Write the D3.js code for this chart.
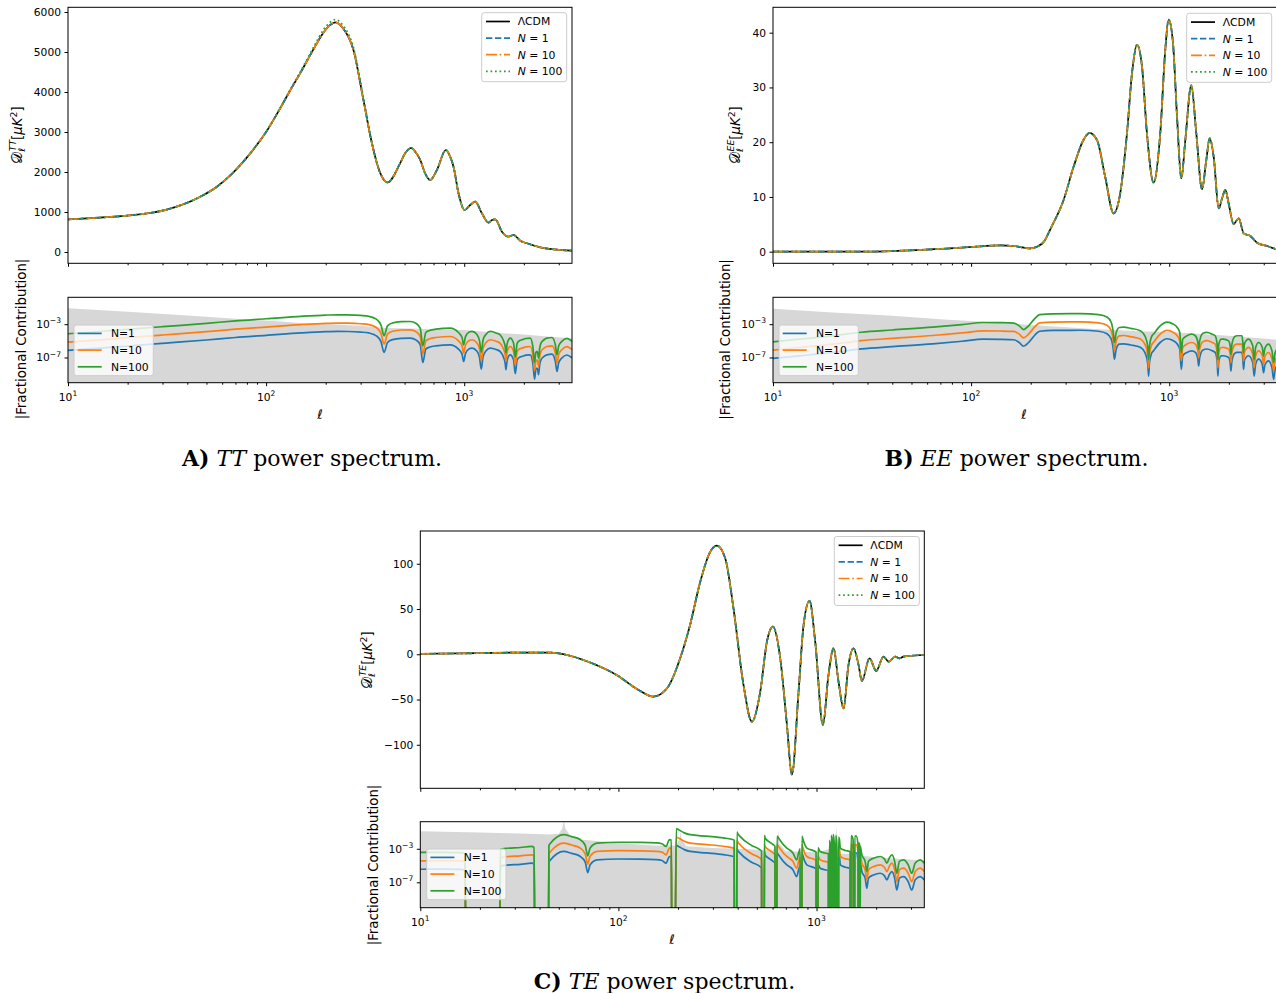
<!DOCTYPE html>
<html>
<head>
<meta charset="utf-8">
<script src="https://cdn.jsdelivr.net/npm/d3@7"></script>
<style>
  html, body { margin: 0; padding: 0; background: #fff; }
  svg { display: block; }
  text { font-family: "DejaVu Sans", sans-serif; fill: #000; white-space: pre; }
  text.caption { font-family: "DejaVu Serif", serif; }
</style>
</head>
<body>
<svg id="fig" width="1276" height="993" viewBox="0 0 1276 993"></svg>
<script>
// ---------------------------------------------------------------
// Multipole range shared by every panel
const ellRange = [10, 3500];
const ellMajor = [10, 100, 1000];
const ellMinor = [20, 30, 40, 50, 60, 70, 80, 90, 200, 300, 400, 500, 600, 700, 800, 900, 2000, 3000];

// TT band powers D_l [muK^2]
const ttEll  = [10,14.5,21,31.5,46,56,68,83,100,118,133,149,173,195,210,223,245,276,310,342,377,410,475,503,540,566,600,635,673,728,808,849,883,936,1003,1072,1137,1228,1327,1380,1435,1550,1675,1775,1918,2074,2422,2826,3500];
const ttLcdm = [817,860,920,1060,1370,1620,1980,2460,3000,3600,4060,4480,5060,5490,5670,5740,5590,5050,3800,2720,1970,1740,2220,2467,2600,2508,2300,1967,1800,2050,2550,2383,2133,1467,1050,1175,1258,967,733,800,817,508,383,425,283,217,117,67,33];
const ttN100 = [817,860,920,1060,1370,1620,1980,2460,3005,3610,4080,4510,5110,5560,5740,5810,5660,5110,3850,2730,1970,1740,2220,2467,2600,2508,2300,1967,1800,2050,2550,2383,2133,1467,1050,1175,1258,967,733,800,817,508,383,425,283,217,117,67,33];

// EE band powers D_l [muK^2]
const eeEll  = [10,30,53,78,103,140,164,199,215,235,250,293,329,369,396,432,475,524,566,612,649,688,729,772,834,901,955,993,1045,1095,1151,1206,1292,1370,1464,1538,1600,1676,1778,1849,1920,1995,2115,2243,2376,2569,2775,3117,3500];
const eeLcdm = [0.03,0.03,0.3,0.6,0.9,1.15,1.04,0.62,0.9,2.0,3.96,9.44,15.5,20.4,21.7,20.4,13.7,7.0,10.7,21.6,32.6,37.8,33.8,21.6,12.6,21.6,36.8,42.4,38.1,24.7,13.4,20.4,30.4,21.6,11.4,16.7,20.7,17.4,7.9,9.75,11.3,8.8,5.06,6.1,3.36,2.87,1.64,1.04,0.4];

// TE band powers D_l [muK^2]
const teEll  = [10,20,30.7,45,55,66.5,81,98,119,129,150,176,205,230,259,291,314,346,381,428,472,520,562,602,656,709,751,812,860,922,985,1077,1149,1218,1291,1369,1450,1537,1630,1694,1852,2001,2178,2310,2497,2620,2750,3500];
const teLcdm = [0.5,1.2,1.8,1.8,-0.8,-6.3,-13.7,-22.9,-35.8,-40.6,-46.8,-37.6,-4.4,32.4,80.2,113.4,120,106,50.8,-33.9,-74.5,-41.3,13.9,30.5,-4.4,-78,-133,-41,32,58.9,13.9,-78,-22.9,6.6,-30,-59.7,-11.8,6.6,-11.8,-29.5,-4.4,-18.5,-2.6,-8.2,-2.6,-4.5,-2.6,-0.8];

// |fractional contribution|, stored as log10; null = exactly zero (falls off the log axis)
const ttFracEll  = [10,15,20,30,50,70,100,150,200,230,260,300,330,360,380,394,410,435,480,533,575,600,618,640,670,720,850,935,975,993,1015,1060,1095,1160,1195,1219,1245,1290,1353,1450,1520,1580,1610,1625,1645,1680,1708,1775,1811,1850,1910,1956,2050,2154,2223,2265,2300,2328,2350,2372,2400,2438,2520,2616,2775,2885,2940,3000,3100,3300,3500];
const ttFracN1   = [-6.15,-5.85,-5.62,-5.3,-4.9,-4.6,-4.35,-4.05,-3.9,-3.87,-3.88,-3.95,-4.05,-4.4,-5.1,-6.4,-5.2,-4.85,-4.7,-4.68,-4.95,-5.5,-7.6,-6.0,-5.75,-5.6,-5.48,-6.0,-6.6,-7.48,-6.5,-5.95,-5.87,-6.25,-7.0,-8.39,-6.9,-6.2,-5.87,-6.05,-6.3,-7.0,-7.7,-8.47,-7.4,-6.8,-6.68,-7.3,-8.95,-7.3,-6.95,-6.88,-6.72,-6.68,-7.8,-9.59,-8.4,-8.27,-8.5,-9.07,-8.0,-7.3,-6.9,-6.68,-6.6,-7.5,-8.68,-7.6,-7.1,-6.7,-7.05];
const ttFracN10  = [-5.15,-4.85,-4.62,-4.3,-3.9,-3.6,-3.35,-3.05,-2.9,-2.87,-2.88,-2.95,-3.05,-3.4,-4.1,-5.4,-4.2,-3.85,-3.7,-3.68,-3.95,-4.5,-6.6,-5.0,-4.75,-4.6,-4.48,-5.0,-5.6,-6.48,-5.5,-4.95,-4.87,-5.25,-6.0,-7.39,-5.9,-5.2,-4.87,-5.05,-5.3,-6.0,-6.7,-7.47,-6.4,-5.8,-5.68,-6.3,-7.95,-6.3,-5.95,-5.88,-5.72,-5.68,-6.8,-8.59,-7.4,-7.27,-7.5,-8.07,-7.0,-6.3,-5.9,-5.68,-5.6,-6.5,-7.68,-6.6,-6.1,-5.7,-6.05];
const ttFracN100 = [-4.15,-3.85,-3.62,-3.3,-2.9,-2.6,-2.35,-2.05,-1.9,-1.87,-1.88,-1.95,-2.05,-2.4,-3.1,-4.4,-3.2,-2.85,-2.7,-2.68,-2.95,-3.5,-5.6,-4.0,-3.75,-3.6,-3.48,-4.0,-4.6,-5.48,-4.5,-3.95,-3.87,-4.25,-5.0,-6.39,-4.9,-4.2,-3.87,-4.05,-4.3,-5.0,-5.7,-6.47,-5.4,-4.8,-4.68,-5.3,-6.95,-5.3,-4.95,-4.88,-4.72,-4.68,-5.8,-7.59,-6.4,-6.27,-6.5,-7.07,-6.0,-5.3,-4.9,-4.68,-4.6,-5.5,-6.68,-5.6,-5.1,-4.7,-5.05];
const ttBandEll  = [10,20,40,70,100,150,220,300,400,600,1000,1500,2000,2700,3500];
const ttBand     = [-1.08,-1.5,-1.95,-2.35,-2.55,-2.85,-3.05,-3.2,-3.45,-3.55,-3.7,-4.05,-4.25,-4.5,-4.68];

const eeFracEll  = [10,15,20,28,40,64,90,115,140,164,175,184,195,210,222,260,356,440,485,510,522,529,540,560,588,640,714,760,780,787,795,815,834,900,974,1050,1095,1130,1151,1170,1229,1300,1355,1395,1408,1425,1480,1550,1650,1706,1745,1761,1780,1830,1880,1995,2030,2049,2070,2140,2199,2330,2355,2373,2400,2514,2640,2685,2730,2825,2950,2993,3040,3170,3300,3365,3420,3500];
const eeFracN1   = [-7.12,-6.7,-6.4,-5.97,-5.7,-5.36,-5.05,-4.8,-4.82,-4.87,-5.2,-5.65,-5.2,-4.3,-3.85,-3.75,-3.73,-3.85,-4.14,-4.8,-6.0,-7.2,-6.0,-5.4,-5.36,-5.5,-5.78,-6.6,-7.8,-9.24,-7.6,-6.5,-6.18,-5.2,-4.75,-5.0,-5.36,-6.0,-8.42,-6.8,-6.39,-6.2,-6.39,-7.2,-8.02,-7.0,-6.1,-5.98,-6.2,-6.39,-7.4,-9.24,-7.4,-6.8,-6.79,-7.0,-7.6,-8.63,-7.5,-6.5,-6.39,-6.39,-7.3,-8.42,-7.3,-6.79,-7.6,-9.24,-7.8,-7.2,-7.8,-8.83,-7.9,-7.4,-8.2,-9.6,-8.5,-8.0];
const eeFracN10  = [-6.12,-5.7,-5.4,-4.97,-4.7,-4.36,-4.05,-3.8,-3.82,-3.87,-4.2,-4.65,-4.2,-3.3,-2.85,-2.75,-2.73,-2.85,-3.14,-3.8,-5.0,-6.2,-5.0,-4.4,-4.36,-4.5,-4.78,-5.6,-6.8,-8.24,-6.6,-5.5,-5.18,-4.2,-3.75,-4.0,-4.36,-5.0,-7.42,-5.8,-5.39,-5.2,-5.39,-6.2,-7.02,-6.0,-5.1,-4.98,-5.2,-5.39,-6.4,-8.24,-6.4,-5.8,-5.79,-6.0,-6.6,-7.63,-6.5,-5.5,-5.39,-5.39,-6.3,-7.42,-6.3,-5.79,-6.6,-8.24,-6.8,-6.2,-6.8,-7.83,-6.9,-6.4,-7.2,-8.6,-7.5,-7.0];
const eeFracN100 = [-5.12,-4.7,-4.4,-3.97,-3.7,-3.36,-3.05,-2.8,-2.82,-2.87,-3.2,-3.65,-3.2,-2.3,-1.85,-1.75,-1.73,-1.85,-2.14,-2.8,-4.0,-5.2,-4.0,-3.4,-3.36,-3.5,-3.78,-4.6,-5.8,-7.24,-5.6,-4.5,-4.18,-3.2,-2.75,-3.0,-3.36,-4.0,-6.42,-4.8,-4.39,-4.2,-4.39,-5.2,-6.02,-5.0,-4.1,-3.98,-4.2,-4.39,-5.4,-7.24,-5.4,-4.8,-4.79,-5.0,-5.6,-6.63,-5.5,-4.5,-4.39,-4.39,-5.3,-6.42,-5.3,-4.79,-5.6,-7.24,-5.8,-5.2,-5.8,-6.83,-5.9,-5.4,-6.2,-7.6,-6.5,-6.0];
const eeBandEll  = [10,20,40,70,115,200,400,700,1000,2000,3500];
const eeBand     = [-1.16,-1.6,-2.0,-2.4,-2.72,-3.1,-3.55,-3.85,-3.94,-4.4,-4.87];

const teFracEll  = [10,13,16,16.8,17.0,25.1,25.4,27,32,36.5,37.5,37.9,44.3,44.6,45.5,49,52.8,58,64,68,70,72,78,100,129,155,166,174,181,185,186,193,196,201,215,230,279,339,381,384,385,395,397,399,411,470,519,528,529,544,546,550,580,606,617,618,630,632,643,680,708,760,795,810,827,828,843,845,850,894,985,995,996,1016,1018,1043,1100,1148,1150,1160,1162,1172,1174,1185,1187,1198,1200,1214,1216,1230,1232,1248,1250,1265,1267,1290,1293,1306,1318,1400,1469,1478,1480,1490,1495,1510,1530,1538,1555,1560,1587,1620,1624,1632,1636,1652,1655,1660,1663,1694,1760,1795,1830,1940,2097,2200,2265,2330,2400,2480,2543,2620,2750,2900,3027,3150,3334,3500];
const teFracN1   = [-5.44,-5.43,-5.45,-5.6,null,null,-5.1,-4.95,-4.85,-4.72,-4.85,null,null,-4.6,-4.32,-3.6,-3.32,-3.55,-3.9,-4.6,-5.84,-4.9,-4.32,-4.22,-4.24,-4.3,-4.4,-4.72,-3.92,-3.95,null,null,-2.6,-2.72,-3.1,-3.32,-3.5,-3.7,-3.92,-4.0,null,null,-3.0,-3.12,-3.52,-4.6,-5.12,-5.3,null,null,-3.4,-3.72,-4.2,-4.52,-4.7,null,null,-3.5,-3.72,-4.5,-4.92,-5.5,-6.32,-5.6,-5.0,null,null,-3.5,-3.72,-4.92,-5.32,-5.4,null,null,-4.9,-5.32,-5.5,-5.6,null,null,-4.0,-4.8,null,null,-3.4,-4.5,null,null,-3.3,-4.6,null,null,-3.4,-4.3,null,null,-3.6,-3.9,-4.92,-5.2,-5.32,-5.5,null,null,-3.44,-3.5,-3.9,null,null,-3.5,-3.5,-4.5,null,null,-4.3,-4.6,null,null,-4.7,-5.72,-6.5,-7.72,-6.5,-6.12,-5.92,-6.2,-6.72,-6.1,-5.72,-6.5,-7.92,-6.5,-6.32,-6.9,-7.92,-6.7,-6.32,-6.72];
const teFracN10  = [-4.44,-4.43,-4.45,-4.6,null,null,-4.1,-3.95,-3.85,-3.72,-3.85,null,null,-3.6,-3.32,-2.6,-2.32,-2.55,-2.9,-3.6,-4.84,-3.9,-3.32,-3.22,-3.24,-3.3,-3.4,-3.72,-2.92,-2.95,null,null,-1.6,-1.72,-2.1,-2.32,-2.5,-2.7,-2.92,-3.0,null,null,-2.0,-2.12,-2.52,-3.6,-4.12,-4.3,null,null,-2.4,-2.72,-3.2,-3.52,-3.7,null,null,-2.5,-2.72,-3.5,-3.92,-4.5,-5.32,-4.6,-4.0,null,null,-2.5,-2.72,-3.92,-4.32,-4.4,null,null,-3.9,-4.32,-4.5,-4.6,null,null,-3.0,-3.8,null,null,-2.4,-3.5,null,null,-2.3,-3.6,null,null,-2.4,-3.3,null,null,-2.6,-2.9,-3.92,-4.2,-4.32,-4.5,null,null,-2.44,-2.5,-2.9,null,null,-2.5,-2.5,-3.5,null,null,-3.3,-3.6,null,null,-3.7,-4.72,-5.5,-6.72,-5.5,-5.12,-4.92,-5.2,-5.72,-5.1,-4.72,-5.5,-6.92,-5.5,-5.32,-5.9,-6.92,-5.7,-5.32,-5.72];
const teFracN100 = [-3.44,-3.43,-3.45,-3.6,null,null,-3.1,-2.95,-2.85,-2.72,-2.85,null,null,-2.6,-2.32,-1.6,-1.32,-1.55,-1.9,-2.6,-3.84,-2.9,-2.32,-2.22,-2.24,-2.3,-2.4,-2.72,-1.92,-1.95,null,null,-0.6,-0.72,-1.1,-1.32,-1.5,-1.7,-1.92,-2.0,null,null,-1.0,-1.12,-1.52,-2.6,-3.12,-3.3,null,null,-1.4,-1.72,-2.2,-2.52,-2.7,null,null,-1.5,-1.72,-2.5,-2.92,-3.5,-4.32,-3.6,-3.0,null,null,-1.5,-1.72,-2.92,-3.32,-3.4,null,null,-2.9,-3.32,-3.5,-3.6,null,null,-2.0,-2.8,null,null,-1.4,-2.5,null,null,-1.3,-2.6,null,null,-1.4,-2.3,null,null,-1.6,-1.9,-2.92,-3.2,-3.32,-3.5,null,null,-1.44,-1.5,-1.9,null,null,-1.5,-1.5,-2.5,null,null,-2.3,-2.6,null,null,-2.7,-3.72,-4.5,-5.72,-4.5,-4.12,-3.92,-4.2,-4.72,-4.1,-3.72,-4.5,-5.92,-4.5,-4.32,-4.9,-5.92,-4.7,-4.32,-4.72];
const teBandEll  = [10,20,35,45,50,52,53,54,57,64,100,150,195,203,206,209,220,300,400,600,636,643,650,700,1000,1180,1191,1200,1250,1263,1275,1300,1500,1510,1520,2000,3500];
const teBand     = [-0.92,-1.05,-1.2,-1.3,-1.2,-0.6,0.4,-0.6,-1.4,-1.9,-2.3,-2.6,-2.6,-1.9,-1.1,-1.9,-2.7,-2.9,-3.0,-3.2,-2.4,-0.72,-2.4,-3.3,-3.4,-3.0,-0.9,-3.0,-2.5,-0.24,-2.5,-3.6,-3.6,-1.5,-3.7,-4.0,-4.4];

// Axis ticks
const ttTicks = [0, 1000, 2000, 3000, 4000, 5000, 6000];
const eeTicks = [0, 10, 20, 30, 40];
const teTicks = [-100, -50, 0, 50, 100];
const fracTickExp = [-7, -3];
const fracRange = [Math.pow(10, -10.03), Math.pow(10, 0.23)];

// ---------------------------------------------------------------
const svg = d3.select('#fig');
const defs = svg.append('defs');
const TICK_FS = 10.7;
const LABEL_FS = 13.3;
const LW = 1.7;
const C = { lcdm: '#000000', n1: '#1f77b4', n10: '#ff7f0e', n100: '#2ca02c' };
const DASH = { n1: '6.3,2.7', n10: '10.9,2.7,1.7,2.7', n100: '1.7,2.8' };

function clip(id, x0, y0, x1, y1) {
  defs.append('clipPath').attr('id', id).append('rect')
    .attr('x', x0).attr('y', y0).attr('width', x1 - x0).attr('height', y1 - y0);
  return `url(#${id})`;
}

function styleAxis(sel) {
  sel.select('.domain').remove();
  sel.attr('font-family', null).attr('font-size', null);
  sel.selectAll('.tick line').attr('stroke', '#000').attr('stroke-width', 1);
  sel.selectAll('.tick text').attr('font-size', TICK_FS).attr('fill', '#000');
}

function frame(g, x0, y0, x1, y1) {
  g.append('rect').attr('x', x0).attr('y', y0).attr('width', x1 - x0).attr('height', y1 - y0)
    .attr('fill', 'none').attr('stroke', '#000').attr('stroke-width', 1);
}

function ellTicks(g, x, yPos, labelled) {
  styleAxis(g.append('g').attr('transform', `translate(0,${yPos})`)
    .call(d3.axisBottom(x).tickValues(ellMajor).tickSize(3.5).tickFormat('')));
  styleAxis(g.append('g').attr('transform', `translate(0,${yPos})`)
    .call(d3.axisBottom(x).tickValues(ellMinor).tickSize(2).tickFormat('')));
  if (labelled) {
    ellMajor.forEach(v => {
      const t = g.append('text').attr('x', x(v)).attr('y', yPos + 18.3)
        .attr('text-anchor', 'middle').attr('font-size', TICK_FS);
      t.append('tspan').text('10');
      t.append('tspan').attr('dy', -4.8).attr('font-size', 7.6).text(String(Math.round(Math.log10(v))));
    });
  }
}

function dLabel(g, bx, cy, pair) {
  const t = g.append('text').attr('transform', `translate(${bx},${cy}) rotate(-90)`)
    .attr('text-anchor', 'middle').attr('font-size', LABEL_FS);
  t.append('tspan').attr('font-size', 14.5).text('\u{1D49F}');
  t.append('tspan').attr('font-size', 9.3).attr('font-style', 'italic').attr('dy', 3).text('\u2113');
  t.append('tspan').attr('font-size', 9.3).attr('font-style', 'italic').attr('dx', -3.5).attr('dy', -9).text(pair);
  t.append('tspan').attr('dy', 6).text('[');
  t.append('tspan').attr('font-style', 'italic').text('\u03BCK');
  t.append('tspan').attr('font-size', 9.3).attr('dy', -5).text('2');
  t.append('tspan').attr('dy', 5).text(']');
}

function fracLabel(g, bx, cy) {
  g.append('text').attr('transform', `translate(${bx},${cy}) rotate(-90)`)
    .attr('text-anchor', 'middle').attr('font-size', LABEL_FS).text('|Fractional Contribution|');
}

function ellLabel(g, cx, by) {
  g.append('text').attr('x', cx).attr('y', by).attr('text-anchor', 'middle')
    .attr('font-size', LABEL_FS).attr('font-style', 'italic').text('\u2113');
}

function topLegend(g, bx, by) {
  const entries = [
    { name: 'lcdm', label: ['\u039BCDM'] },
    { name: 'n1', label: ['N', ' = 1'] },
    { name: 'n10', label: ['N', ' = 10'] },
    { name: 'n100', label: ['N', ' = 100'] }
  ];
  g.append('rect').attr('x', bx).attr('y', by).attr('width', 85).attr('height', 69).attr('rx', 2.5)
    .attr('fill', '#fff').attr('fill-opacity', 0.8).attr('stroke', '#cccccc').attr('stroke-width', 1);
  entries.forEach((e, i) => {
    const yy = by + 8.8 + i * 16.6;
    g.append('line').attr('x1', bx + 4.3).attr('x2', bx + 28.3).attr('y1', yy).attr('y2', yy)
      .attr('stroke', C[e.name]).attr('stroke-width', LW).attr('stroke-dasharray', DASH[e.name] || null);
    const t = g.append('text').attr('x', bx + 36).attr('y', yy + 3.8).attr('font-size', 10.8);
    if (e.label.length === 1) t.text(e.label[0]);
    else {
      t.append('tspan').attr('font-style', 'italic').text(e.label[0]);
      t.append('tspan').text(e.label[1]);
    }
  });
}

function bottomLegend(g, bx, by) {
  const entries = [['n1', 'N=1'], ['n10', 'N=10'], ['n100', 'N=100']];
  g.append('rect').attr('x', bx).attr('y', by).attr('width', 79.3).attr('height', 50.7).attr('rx', 2.5)
    .attr('fill', '#fff').attr('fill-opacity', 0.8).attr('stroke', '#cccccc').attr('stroke-width', 1);
  entries.forEach(([k, lab], i) => {
    const yy = by + 8.4 + i * 16.7;
    g.append('line').attr('x1', bx + 3.7).attr('x2', bx + 27.7).attr('y1', yy).attr('y2', yy)
      .attr('stroke', C[k]).attr('stroke-width', LW);
    g.append('text').attr('x', bx + 37).attr('y', yy + 3.9).attr('font-size', 10.8).text(lab);
  });
}

function spectrumPanel(L, spec) {
  const g = svg.append('g');
  const x = d3.scaleLog().domain(ellRange).range([L.x0, L.x1]);
  const y = d3.scaleLinear().domain(spec.yDomain).range([L.ty1, L.ty0]);
  const line = d3.line().x(d => x(d[0])).y(d => y(d[1])).curve(d3.curveMonotoneX);
  const plot = g.append('g').attr('clip-path', clip(spec.id + '-top', L.x0, L.ty0, L.x1, L.ty1));
  spec.series.forEach(s => {
    plot.append('path').datum(d3.zip(s.ell, s.values)).attr('d', line)
      .attr('fill', 'none').attr('stroke', C[s.name]).attr('stroke-width', LW)
      .attr('stroke-dasharray', DASH[s.name] || null);
  });
  frame(g, L.x0, L.ty0, L.x1, L.ty1);
  styleAxis(g.append('g').attr('transform', `translate(${L.x0},0)`)
    .call(d3.axisLeft(y).tickValues(spec.yTicks).tickSize(3.5).tickPadding(3.5)
      .tickFormat(d => d < 0 ? '\u2212' + (-d) : String(d))));
  ellTicks(g, x, L.ty1, false);
  dLabel(g, L.dLabelX, L.dLabelY, spec.pair);
  topLegend(g, L.legX, L.legY);
}

function fracPanel(L, spec) {
  const g = svg.append('g');
  const x = d3.scaleLog().domain(ellRange).range([L.x0, L.x1]);
  const y = d3.scaleLog().domain(fracRange).range([L.by1, L.by0]);
  const floor = L.by1 + 40;
  const yv = v => v === null ? floor : y(Math.pow(10, v));
  const plot = g.append('g').attr('clip-path', clip(spec.id + '-bot', L.x0, L.by0, L.x1, L.by1));
  const area = d3.area().x(d => x(d[0])).y0(floor).y1(d => yv(d[1]));
  plot.append('path').datum(d3.zip(spec.bandEll, spec.band)).attr('d', area).attr('fill', '#d7d7d7');
  const line = d3.line().x(d => x(d[0])).y(d => yv(d[1])).curve(d3.curveMonotoneX);
  spec.series.forEach(s => {
    plot.append('path').datum(d3.zip(spec.ell, s.values)).attr('d', line)
      .attr('fill', 'none').attr('stroke', C[s.name]).attr('stroke-width', LW);
  });
  frame(g, L.x0, L.by0, L.x1, L.by1);
  styleAxis(g.append('g').attr('transform', `translate(${L.x0},0)`)
    .call(d3.axisLeft(y).tickValues(fracTickExp.map(e => Math.pow(10, e))).tickSize(3.5).tickFormat('')));
  fracTickExp.forEach(e => {
    const t = g.append('text').attr('x', L.x0 - 7).attr('y', y(Math.pow(10, e)) + 3.9)
      .attr('text-anchor', 'end').attr('font-size', TICK_FS);
    t.append('tspan').text('10');
    t.append('tspan').attr('dy', -4.8).attr('font-size', 7.6).text('\u2212' + (-e));
  });
  ellTicks(g, x, L.by1, true);
  fracLabel(g, L.fLabelX, L.fLabelY);
  ellLabel(g, L.ellX, L.ellY);
  bottomLegend(g, L.bLegX, L.bLegY);
}

function caption(cx, by, letter, pair) {
  const t = svg.append('text').attr('class', 'caption').attr('x', cx).attr('y', by)
    .attr('text-anchor', 'middle').attr('font-size', 22);
  t.append('tspan').attr('font-weight', 'bold').text(letter + ')');
  t.append('tspan').text(' ');
  t.append('tspan').attr('font-style', 'italic').text(pair);
  t.append('tspan').text(' power spectrum.');
}

// ---------------------------------------------------------------
const layoutA = { x0: 68, x1: 572, ty0: 7.3, ty1: 263.3, by0: 297.3, by1: 382.7,
  dLabelX: 22, dLabelY: 135, legX: 481.7, legY: 12.7,
  fLabelX: 26, fLabelY: 339, ellX: 320, ellY: 419, bLegX: 74, bLegY: 325 };
const layoutB = { x0: 773, x1: 1277, ty0: 7.3, ty1: 263.3, by0: 297.3, by1: 382.7,
  dLabelX: 740, dLabelY: 135, legX: 1186.7, legY: 13.3,
  fLabelX: 730, fLabelY: 339.5, ellX: 1024, ellY: 419, bLegX: 779, bLegY: 325 };
const layoutC = { x0: 420.3, x1: 924.3, ty0: 531, ty1: 788.3, by0: 821.7, by1: 907.7,
  dLabelX: 372, dLabelY: 660, legX: 834.3, legY: 536.5,
  fLabelX: 378, fLabelY: 865, ellX: 672, ellY: 944, bLegX: 426.7, bLegY: 849 };

spectrumPanel(layoutA, {
  id: 'tt', pair: 'TT', yDomain: [-282.5, 6117.5], yTicks: ttTicks,
  series: [
    { name: 'lcdm', ell: ttEll, values: ttLcdm },
    { name: 'n1', ell: ttEll, values: ttLcdm },
    { name: 'n10', ell: ttEll, values: ttLcdm },
    { name: 'n100', ell: ttEll, values: ttN100 }
  ]
});
fracPanel(layoutA, {
  id: 'tt', ell: ttFracEll, bandEll: ttBandEll, band: ttBand,
  series: [{ name: 'n1', values: ttFracN1 }, { name: 'n10', values: ttFracN10 }, { name: 'n100', values: ttFracN100 }]
});

spectrumPanel(layoutB, {
  id: 'ee', pair: 'EE', yDomain: [-2.12, 44.64], yTicks: eeTicks,
  series: [
    { name: 'lcdm', ell: eeEll, values: eeLcdm },
    { name: 'n1', ell: eeEll, values: eeLcdm },
    { name: 'n10', ell: eeEll, values: eeLcdm },
    { name: 'n100', ell: eeEll, values: eeLcdm }
  ]
});
fracPanel(layoutB, {
  id: 'ee', ell: eeFracEll, bandEll: eeBandEll, band: eeBand,
  series: [{ name: 'n1', values: eeFracN1 }, { name: 'n10', values: eeFracN10 }, { name: 'n100', values: eeFracN100 }]
});

spectrumPanel(layoutC, {
  id: 'te', pair: 'TE', yDomain: [-148.1, 136.2], yTicks: teTicks,
  series: [
    { name: 'lcdm', ell: teEll, values: teLcdm },
    { name: 'n1', ell: teEll, values: teLcdm },
    { name: 'n10', ell: teEll, values: teLcdm },
    { name: 'n100', ell: teEll, values: teLcdm }
  ]
});
fracPanel(layoutC, {
  id: 'te', ell: teFracEll, bandEll: teBandEll, band: teBand,
  series: [{ name: 'n1', values: teFracN1 }, { name: 'n10', values: teFracN10 }, { name: 'n100', values: teFracN100 }]
});

caption(312, 466, 'A', 'TT');
caption(1016.5, 466, 'B', 'EE');
caption(664.5, 989, 'C', 'TE');
</script>
</body>
</html>
